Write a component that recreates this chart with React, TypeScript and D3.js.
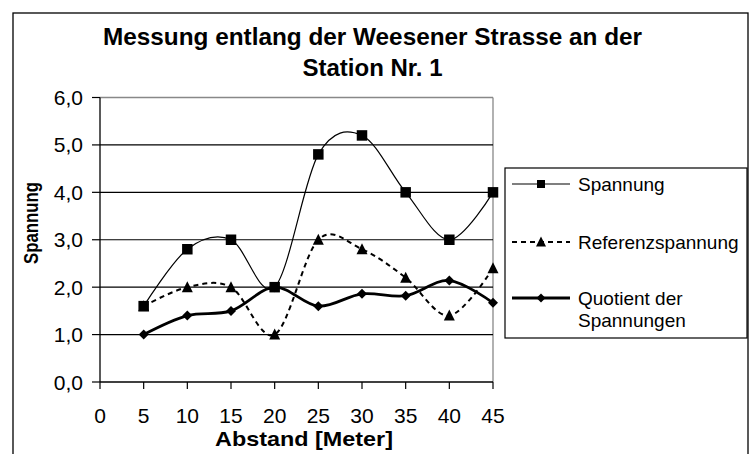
import React from "react";
import * as d3 from "d3";

const distances = [5, 10, 15, 20, 25, 30, 35, 40, 45];
const spannung = [1.6, 2.8, 3.0, 2.0, 4.8, 5.2, 4.0, 3.0, 4.0];
const referenz = [1.6, 2.0, 2.0, 1.0, 3.0, 2.8, 2.2, 1.4, 2.4];
const quotient = [1.0, 1.4, 1.5, 2.0, 1.6, 1.86, 1.82, 2.14, 1.67];
const xTicks = [0, 5, 10, 15, 20, 25, 30, 35, 40, 45];
const yTicks = [0, 1, 2, 3, 4, 5, 6];
const titleLines = ["Messung entlang der Weesener Strasse an der", "Station Nr. 1"];
const seriesNames = ["Spannung", "Referenzspannung", "Quotient der|Spannungen"];

const FONT = "'Liberation Sans', Arial, sans-serif";

function markerPath(kind: string, cx: number, cy: number, s: number): string {
  const h = s / 2;
  if (kind === "square") {
    return `M${cx - h},${cy - h}H${cx + h}V${cy + h}H${cx - h}Z`;
  }
  if (kind === "triangle") {
    return `M${cx},${cy - h - 1}L${cx + h + 0.5},${cy + h}L${cx - h - 0.5},${cy + h}Z`;
  }
  return `M${cx},${cy - h}L${cx + h},${cy}L${cx},${cy + h}L${cx - h},${cy}Z`;
}

export default function App() {
  const x = d3.scaleLinear().domain([0, 45]).range([100, 493]);
  const y = d3.scaleLinear().domain([0, 6]).range([382, 97.5]);

  const line = d3
    .line<number>()
    .x((_, i) => x(distances[i]))
    .y((d) => y(d))
    .curve(d3.curveCatmullRom.alpha(0));

  const series = [
    { values: spannung, width: 1.2, dash: undefined as string | undefined, marker: "square", ms: 10.5, lms: 8 },
    { values: referenz, width: 2, dash: "5,4", marker: "triangle", ms: 10, lms: 9 },
    { values: quotient, width: 2.8, dash: undefined as string | undefined, marker: "diamond", ms: 10, lms: 9 },
  ];

  const legendY = [184, 242, 298];

  return (
    <svg
      width={749}
      height={454}
      style={{ position: "absolute", left: 0, top: 0, background: "#fff" }}
      fontFamily={FONT}
    >
      <rect x={0} y={0} width={749} height={454} fill="#fff" />
      {/* outer chart border */}
      <rect x={13} y={13} width={735} height={460} fill="none" stroke="#000" strokeWidth={1.3} />

      {/* title */}
      <text x={372.5} y={45} textAnchor="middle" fontWeight="bold" fontSize={24} textLength={539} lengthAdjust="spacingAndGlyphs">
        {titleLines[0]}
      </text>
      <text x={372.5} y={76} textAnchor="middle" fontWeight="bold" fontSize={24}>
        {titleLines[1]}
      </text>

      {/* plot area border (top/right gray) */}
      <line x1={x(0)} x2={x(45)} y1={y(6)} y2={y(6)} stroke="#888" strokeWidth={1.3} />
      <line x1={x(45)} x2={x(45)} y1={y(6)} y2={y(0)} stroke="#888" strokeWidth={1.3} />

      {/* gridlines */}
      {yTicks.filter((t) => t > 0 && t < 6).map((t) => (
        <line key={"g" + t} x1={x(0)} x2={x(45)} y1={y(t)} y2={y(t)} stroke="#000" strokeWidth={1.2} />
      ))}

      {/* axes */}
      <line x1={x(0)} x2={x(0)} y1={y(6)} y2={y(0)} stroke="#000" strokeWidth={1.3} />
      <line x1={x(0)} x2={x(45)} y1={y(0)} y2={y(0)} stroke="#000" strokeWidth={1.3} />
      {yTicks.map((t) => (
        <g key={"yt" + t}>
          <line x1={x(0) - 8} x2={x(0)} y1={y(t)} y2={y(t)} stroke="#000" strokeWidth={1.2} />
          <text x={83} y={y(t) + 7.5} textAnchor="end" fontSize={21}>
            {t.toFixed(1).replace(".", ",")}
          </text>
        </g>
      ))}
      {xTicks.map((t) => (
        <g key={"xt" + t}>
          <line x1={x(t)} x2={x(t)} y1={y(0)} y2={y(0) + 7} stroke="#000" strokeWidth={1.2} />
          <text x={x(t)} y={423} textAnchor="middle" fontSize={21}>
            {t}
          </text>
        </g>
      ))}

      {/* axis titles */}
      <text
        transform={`translate(38,223) rotate(-90)`}
        textAnchor="middle"
        fontWeight="bold"
        fontSize={20}
        textLength={82}
        lengthAdjust="spacingAndGlyphs"
      >
        Spannung
      </text>
      <text x={304} y={446} textAnchor="middle" fontWeight="bold" fontSize={21} textLength={178} lengthAdjust="spacingAndGlyphs">
        Abstand [Meter]
      </text>

      {/* series */}
      {series.map((s, si) => (
        <g key={"s" + si}>
          <path d={line(s.values) || ""} fill="none" stroke="#000" strokeWidth={s.width} strokeDasharray={s.dash} />
          {s.values.map((v, i) => (
            <path key={i} d={markerPath(s.marker, x(distances[i]), y(v), s.ms)} fill="#000" />
          ))}
        </g>
      ))}

      {/* legend */}
      <rect x={505} y={168} width={242} height={170} fill="#fff" stroke="#000" strokeWidth={1.2} />
      {series.map((s, si) => {
        const ly = legendY[si];
        const parts = seriesNames[si].split("|");
        return (
          <g key={"l" + si}>
            <line x1={512} x2={570} y1={ly} y2={ly} stroke="#000" strokeWidth={s.width} strokeDasharray={s.dash} />
            <path d={markerPath(s.marker, 541, ly, s.lms)} fill="#000" />
            {parts.map((p, pi) => (
              <text key={pi} x={578} y={ly + 7 + pi * 22} fontSize={19}>
                {p}
              </text>
            ))}
          </g>
        );
      })}
    </svg>
  );
}
